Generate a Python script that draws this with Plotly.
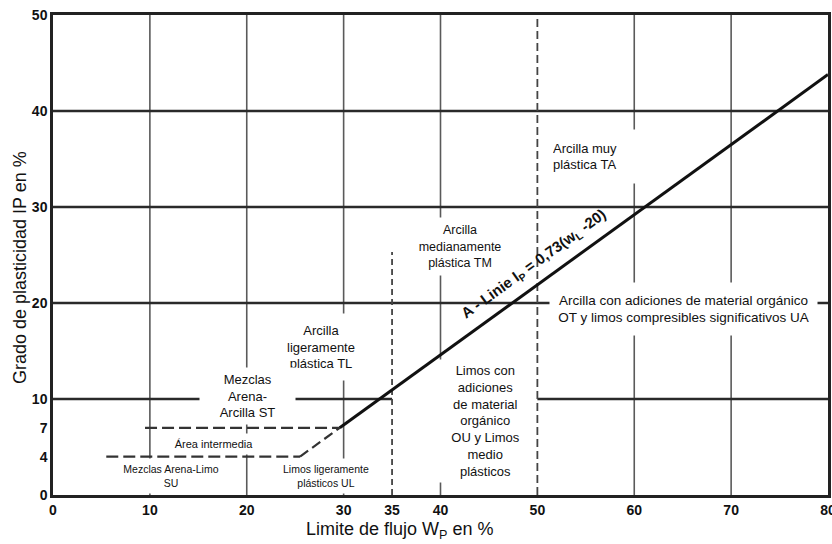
import plotly.graph_objects as go

# ---------------- data ----------------
x_ticks = [0, 10, 20, 30, 35, 40, 50, 60, 70, 80]
y_ticks = [0, 4, 7, 10, 20, 30, 40, 50]
grid_x = [10, 20, 30, 40, 60, 70]
grid_y = [20, 30, 40]
grid_y10_segments = [[0, 35], [50, 80]]

a_line_x = [29.6, 80]
a_line_y = [7.0, 43.8]
a_line_dashed_x = [25.5, 29.6]
a_line_dashed_y = [4.0, 7.0]

limit7_x = [9.5, 29.6]
limit7_y = [7, 7]
limit4_x = [5.5, 25.5]
limit4_y = [4, 4]
limit35_x = [35, 35]
limit35_y = [0, 25.3]
limit50_x = [50, 50]
limit50_y = [0, 50]

region_texts = [
    "Arcilla muy<br>plástica TA",
    "Arcilla<br>medianamente<br>plástica TM",
    "Arcilla con adiciones de material orgánico<br>OT y limos compresibles significativos UA",
    "Arcilla<br>ligeramente<br>plástica TL",
    "Mezclas<br>Arena-<br>Arcilla ST",
    "Área intermedia",
    "Mezclas Arena-Limo<br>SU",
    "Limos ligeramente<br>plásticos UL",
    "Limos con<br>adiciones<br>de material<br>orgánico<br>OU y Limos<br>medio<br>plásticos",
]
region_x = [56.1, 42.0, 65.1, 27.7, 20.1, 16.6, 12.2, 28.2, 44.65]
region_y = [35.3, 25.9, 19.4, 15.4, 10.3, 5.3, 2.0, 2.0, 7.7]

a_line_label = "A - Linie I<sub>P</sub> = 0,73(w<sub>L</sub> -20)"
a_label_x = 49.6
a_label_y = 24.0

# ---------------- styles ----------------
region_box_w = [87, 110, 267, 80, 95, 120, 130, 128, 95]
region_box_h = [53, 57, 52, 66, 56, 20, 34, 34, 122]
region_font = [13, 12.5, 13.5, 13, 13, 11, 10.5, 10.5, 13]
region_align = ["left", "center", "center", "center", "center", "center", "center", "center", "center"]

FONT = "Liberation Sans, Arial, sans-serif"

fig = go.Figure()

def seg_trace(xs, ys, color, width, dash="solid"):
    fig.add_trace(go.Scatter(x=xs, y=ys, mode="lines",
                             line=dict(color=color, width=width, dash=dash),
                             hoverinfo="skip", showlegend=False))

# vertical grid
gx, gy = [], []
for v in grid_x:
    gx += [v, v, None]
    gy += [0, 50, None]
seg_trace(gx, gy, "#5a5a5a", 1.6)

# horizontal grid
hx, hy = [], []
for v in grid_y:
    hx += [0, 80, None]
    hy += [v, v, None]
for s in grid_y10_segments:
    hx += [s[0], s[1], None]
    hy += [10, 10, None]
seg_trace(hx, hy, "#2a2a2a", 2.4)

# dashed limits
seg_trace(limit7_x, limit7_y, "#333333", 2.2, "12px,5px")
seg_trace(limit4_x, limit4_y, "#333333", 2.2, "12px,5px")
seg_trace(limit35_x, limit35_y, "#444444", 1.8, "6px,4px")
seg_trace(limit50_x, limit50_y, "#444444", 1.8, "8px,4px")
seg_trace(a_line_dashed_x, a_line_dashed_y, "#333333", 2.2, "10px,5px")

# A-line
seg_trace(a_line_x, a_line_y, "#111111", 3)

annotations = []
for t, x, y, w, h, fs, al in zip(region_texts, region_x, region_y, region_box_w,
                                  region_box_h, region_font, region_align):
    annotations.append(dict(
        x=x, y=y, xref="x", yref="y", text=t, showarrow=False,
        xanchor="center", yanchor="middle", width=w, height=h,
        align=al, valign="middle", bgcolor="white", borderpad=0,
        font=dict(family=FONT, size=fs, color="#111111")))

annotations.append(dict(
    x=a_label_x, y=a_label_y, xref="x", yref="y", text=a_line_label,
    showarrow=False, textangle=-36,
    font=dict(family=FONT, size=15, color="#111111", weight="bold")))

annotations.append(dict(
    x=(400 - 53) / 775, y=(495 - 530) / 480, xref="paper", yref="paper",
    text="Limite de flujo W<sub>P</sub> en %", showarrow=False,
    xanchor="center", yanchor="middle",
    font=dict(family=FONT, size=18, color="#111111")))

annotations.append(dict(
    x=(20 - 53) / 775, y=(495 - 268) / 480, xref="paper", yref="paper",
    text="Grado de plasticidad IP en %", showarrow=False, textangle=-90,
    xanchor="center", yanchor="middle",
    font=dict(family=FONT, size=18, color="#111111")))

fig.update_layout(
    width=832, height=544,
    margin=dict(l=53, r=4, t=15, b=49),
    paper_bgcolor="white", plot_bgcolor="white",
    annotations=annotations,
    xaxis=dict(range=[0, 80], tickvals=x_ticks, ticktext=[str(v) for v in x_ticks],
               showgrid=False, zeroline=False, showline=True, mirror=True,
               linecolor="#222222", linewidth=2.5, ticks="",
               ticklabeloverflow="allow", automargin=False,
               tickfont=dict(family=FONT, size=14, color="#111111", weight="bold")),
    yaxis=dict(range=[0, 50], tickvals=y_ticks, ticktext=[str(v) for v in y_ticks],
               showgrid=False, zeroline=False, showline=True, mirror=True,
               linecolor="#222222", linewidth=2.5, ticks="", automargin=False,
               tickfont=dict(family=FONT, size=14, color="#111111", weight="bold")),
)

fig.write_html("out.html")
